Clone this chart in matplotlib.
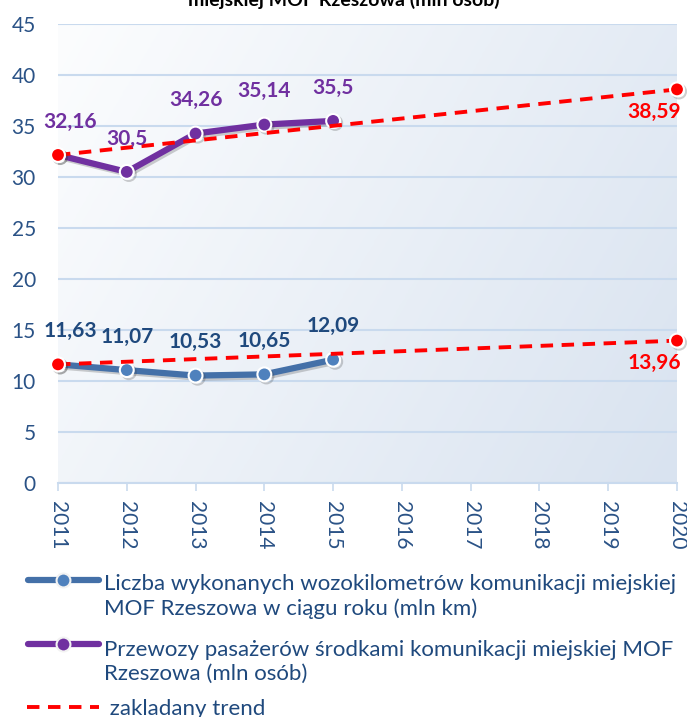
import numpy as np
import matplotlib
matplotlib.use("Agg")
import matplotlib.pyplot as plt
import matplotlib.patheffects as pe
from matplotlib.colors import LinearSegmentedColormap
from matplotlib.lines import Line2D

plt.rcParams['font.family'] = ['Lato', 'DejaVu Sans']

# dane
years = [2011, 2012, 2013, 2014, 2015, 2016, 2017, 2018, 2019, 2020]
data_years = [2011, 2012, 2013, 2014, 2015]
wozokm = [11.63, 11.07, 10.53, 10.65, 12.09]
przewozy = [32.16, 30.5, 34.26, 35.14, 35.5]
trend_years = [2011, 2020]
wozokm_trend = [11.63, 13.96]
przewozy_trend = [32.16, 38.59]

title = "miejskiej MOF Rzeszowa (mln osób)"
legend_labels = [
    "Liczba wykonanych wozokilometrów komunikacji miejskiej\nMOF Rzeszowa w ciągu roku (mln km)",
    "Przewozy pasażerów środkami komunikacji miejskiej MOF\nRzeszowa (mln osób)",
    " zakladany trend",
]

BLUE_LINE = '#4470A8'
BLUE_MARK = '#4F81BD'
BLUE_TXT = '#1F497D'
PURPLE = '#7030A0'
RED = '#FF0000'
AXIS_TXT = '#2A5286'
GRID = '#C9DAEE'

W, H = 687, 717
fig = plt.figure(figsize=(W / 100, H / 100), dpi=100)
ax = fig.add_axes([58 / W, (H - 483) / H, (677 - 58) / W, (483 - 24) / H])

# tlo wykresu - delikatny gradient
gx, gy = np.meshgrid(np.linspace(0, 1, 200), np.linspace(1, 0, 200))
grad = np.clip(0.7 * gx + 0.3 * (1 - gy), 0, 1)
bg = LinearSegmentedColormap.from_list('bg', ['#FCFDFE', '#D9E3F0'])
ax.imshow(grad, extent=[0, 1, 0, 1], transform=ax.transAxes, aspect='auto',
          cmap=bg, zorder=0, interpolation='bicubic')

shadow = [pe.SimpleLineShadow(offset=(1.5, -1.5), shadow_color='#404040', alpha=0.25),
          pe.Normal()]

ax.plot(data_years, wozokm, color=BLUE_LINE, lw=4.5, marker='o', ms=10,
        mfc=BLUE_MARK, mec='white', mew=1.5, zorder=3, path_effects=shadow)
ax.plot(data_years, przewozy, color=PURPLE, lw=4.5, marker='o', ms=10,
        mfc=PURPLE, mec='white', mew=1.5, zorder=3, path_effects=shadow)
for tr in (wozokm_trend, przewozy_trend):
    ax.plot(trend_years, tr, color=RED, lw=2.8, ls=(0, (3.2, 2.2)), zorder=4)
    ax.plot(trend_years, tr, ls='none', marker='o', ms=10, mfc=RED, mec='white',
            mew=1.5, zorder=5, clip_on=False, path_effects=shadow)

# etykiety wartosci
def fmt(v):
    return str(v).replace('.', ',')

for series, col in ((wozokm, BLUE_TXT), (przewozy, PURPLE)):
    for i, (x, v) in enumerate(zip(data_years, series)):
        dx = 9 if i == 0 else 0
        ax.annotate(fmt(v), (x, v), xytext=(dx, 24), textcoords='offset points',
                    ha='center', va='center', fontsize=15, fontweight='bold',
                    color=col, zorder=6)
for tr in (wozokm_trend, przewozy_trend):
    ax.annotate(fmt(tr[-1]), (trend_years[-1], tr[-1]), xytext=(3, -16),
                textcoords='offset points', ha='right', va='center',
                fontsize=15, fontweight='bold', color=RED, zorder=6)

ax.set_xlim(2011, 2020)
ax.set_ylim(0, 45)
ax.set_yticks(np.arange(0, 46, 5))
ax.set_xticks(years)
ax.set_xticklabels([str(y) for y in years], rotation=270)
ax.grid(axis='y', color=GRID, lw=1.5, zorder=1)
ax.set_axisbelow(True)
for s in ('left', 'right', 'top'):
    ax.spines[s].set_visible(False)
ax.spines['bottom'].set_color(GRID)
ax.spines['bottom'].set_linewidth(1.5)
ax.tick_params(axis='y', length=0, pad=16, labelsize=15, labelcolor=AXIS_TXT)
ax.tick_params(axis='x', length=6, width=1.2, color=GRID, pad=7,
               labelsize=15, labelcolor=AXIS_TXT)

# tytul (przyciety u gory)
fig.text(0.5, 1 - 6 / H, title, ha='center', va='baseline', fontsize=14,
         fontweight='bold', color='black')

# legenda
def fy(py):
    return 1 - py / H

handles = [
    dict(color=BLUE_LINE, mfc=BLUE_MARK, y=580),
    dict(color=PURPLE, mfc=PURPLE, y=644),
]
for h in handles:
    fig.add_artist(Line2D([28 / W, 99 / W], [fy(h['y'])] * 2, color=h['color'],
                          lw=4.5, transform=fig.transFigure, solid_capstyle='round'))
    fig.add_artist(Line2D([63 / W], [fy(h['y'])], ls='none', marker='o', ms=10,
                          mfc=h['mfc'], mec='#F2F2F2', mew=1.5, transform=fig.transFigure))
fig.add_artist(Line2D([27 / W, 99 / W], [fy(707)] * 2, color=RED, lw=2.8,
                      ls=(0, (3.2, 2.2)), transform=fig.transFigure))

# baseline ostatniej linii kazdego wpisu
for lab, py in zip(legend_labels, (615, 680, 715)):
    fig.text(104 / W, fy(py), lab, ha='left', va='baseline', fontsize=16,
             color=BLUE_TXT, linespacing=1.27)

fig.savefig('out.png', dpi=100)
